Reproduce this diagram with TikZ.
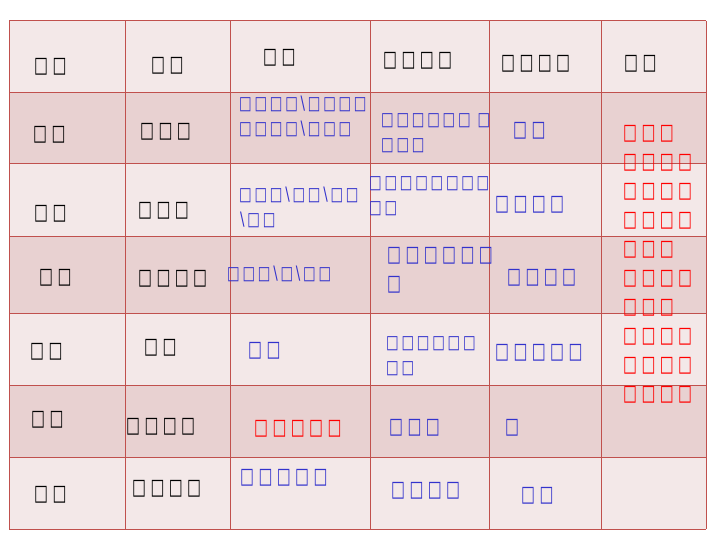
\documentclass[tikz,border=0pt]{standalone}
\usepackage{fontspec}
\newfontfamily\tofubig[FakeStretch=0.67,LetterSpace=20]{DejaVu Sans}
\newfontfamily\tofusmall[FakeStretch=0.72,LetterSpace=15]{DejaVu Sans}
\definecolor{edge}{RGB}{192,80,77}
\definecolor{rowlight}{RGB}{243,232,232}
\definecolor{rowdark}{RGB}{232,209,209}
\definecolor{txtblue}{RGB}{51,51,204}
\definecolor{txtred}{RGB}{255,0,0}
\tikzset{
  cell/.style={anchor=west, inner sep=0pt},
  big/.style={cell, yshift=-1.5pt, font=\tofubig\fontsize{22}{25}\selectfont},
  small/.style={cell, font=\tofusmall\fontsize{18.5}{22}\selectfont},
  blu/.style={text=txtblue},
  rd/.style={text=txtred}
}

\begin{document}
\begin{tikzpicture}[x=1pt,y=-1pt]
        \useasboundingbox (0,0) rectangle (720,540);
        % row bands
        \foreach \top/\bot/\col in {21/93/rowlight,93/164/rowdark,164/236/rowlight,236/313/rowdark,313/385/rowlight,385/457/rowdark,457/529/rowlight}
          \fill[\col] (9,\top) rectangle (706,\bot);
        % grid
        \foreach \x in {9,125,230,370,489,601,706}
          \draw[edge, line width=1pt] (\x,21) -- (\x,529);
        \foreach \y in {21,93,164,236,313,385,457,529}
          \draw[edge, line width=1pt] (9,\y) -- (706,\y);
        % header
        \node[big] (h0) at (34,65) {□□};
        \node[big] (h1) at (151,64) {□□};
        \node[big] (h2) at (263,56) {□□};
        \node[big] (h3) at (383,59) {□□□□};
        \node[big] (h4) at (501,62) {□□□□};
        \node[big] (h5) at (624,62) {□□};
        % first column
        \node[big] (a1) at (33,133) {□□};
        \node[big] (a2) at (34,212) {□□};
        \node[big] (a3) at (39,276) {□□};
        \node[big] (a4) at (30,350) {□□};
        \node[big] (a5) at (31,418) {□□};
        \node[big] (a6) at (34,493) {□□};
        % second column
        \node[big] (b1) at (140,130) {□□□};
        \node[big] (b2) at (138,209) {□□□};
        \node[big] (b3) at (138,277) {□□□□};
        \node[big] (b4) at (144,346) {□□};
        \node[big] (b5) at (126,425) {□□□□};
        \node[big] (b6) at (132,487) {□□□□};
        % third column
        \node[small,blu] (c1a) at (239,104) {□□□□\textbackslash□□□□};
        \node[small,blu] (c1b) at (239,129) {□□□□\textbackslash□□□};
        \node[small,blu] (c2a) at (239,195) {□□□\textbackslash□□\textbackslash□□};
        \node[small,blu] (c2b) at (240,220) {\textbackslash□□};
        \node[small,blu] (c3) at (227,274) {□□□\textbackslash□\textbackslash□□};
        \node[big,blu] (c4) at (248,349) {□□};
        \node[big,rd] (c5) at (254,427) {□□□□□};
        \node[big,blu] (c6) at (240,476) {□□□□□};
        % fourth column
        \node[small,blu] (d1a) at (381,121) {□□□□□□ □};
        \node[small,blu] (d1b) at (381,146) {□□□};
        \node[small,blu] (d2a) at (369,184) {□□□□□□□□};
        \node[small,blu] (d2b) at (369,209) {□□};
        \node[big,blu] (d3a) at (387,254) {□□□□□□};
        \node[big,blu] (d3b) at (387,283) {□};
        \node[small,blu] (d4a) at (386,344) {□□□□□□};
        \node[small,blu] (d4b) at (386,369) {□□};
        \node[big,blu] (d5) at (389,426) {□□□};
        \node[big,blu] (d6) at (391,489) {□□□□};
        % fifth column
        \node[big,blu] (e1) at (513,129) {□□};
        \node[big,blu] (e2) at (495,203) {□□□□};
        \node[big,blu] (e3) at (507,276) {□□□□};
        \node[big,blu] (e4) at (495,351) {□□□□□};
        \node[big,blu] (e5) at (505,426) {□};
        \node[big,blu] (e6) at (521,494) {□□};
        % last column, one long note
        \foreach \t [count=\i from 0] in {□□□,□□□□,□□□□,□□□□,□□□,□□□□,□□□,□□□□,□□□□,□□□□}
          \node[big,rd] (f\i) at (623,132+29*\i) {\t};
\end{tikzpicture}
\end{document}
